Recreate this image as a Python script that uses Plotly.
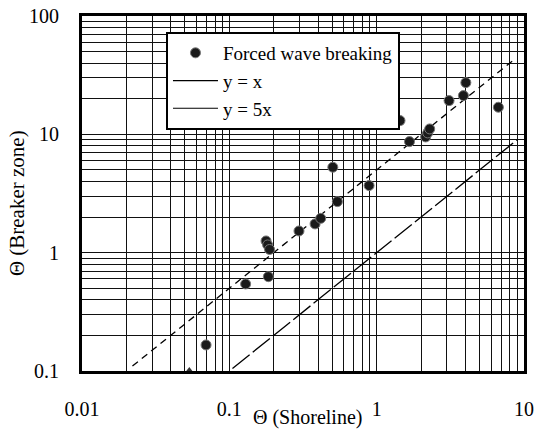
import plotly.graph_objects as go

# Data
shore = [0.0695, 0.129, 0.184, 0.1775, 0.182, 0.1875, 0.297, 0.382, 0.417, 0.541,
         0.504, 0.888, 1.44, 1.67, 2.15, 2.22, 2.29, 3.10, 3.88, 4.03, 6.70]
breaker = [0.166, 0.544, 0.627, 1.256, 1.162, 1.064, 1.525, 1.75, 1.95, 2.70,
           5.27, 3.69, 13.06, 8.68, 9.51, 10.28, 11.11, 19.27, 21.24, 27.35, 16.94]

clipped_x = [0.0535]
clipped_y = [0.1]

line_x_x = [0.105, 9.0]
line_x_y = [0.105, 9.0]
line_5x_x = [0.022, 8.6]
line_5x_y = [0.11, 43.0]

x_tick_labels = {0.01: "0.01", 0.1: "0.1", 1: "1", 10: "10"}
y_tick_labels = {0.1: "0.1", 1: "1", 10: "10", 100: "100"}

def grid_vals(lo_exp, hi_exp):
    vals = []
    for e in range(lo_exp, hi_exp):
        for m in range(1, 10):
            vals.append(m * 10 ** e)
    vals.append(10 ** hi_exp)
    return vals

xgrid = grid_vals(-2, 1)
ygrid = grid_vals(-1, 2)

def lbl(v, d):
    for k, t in d.items():
        if abs(v - k) / k < 1e-6:
            return t
    return ""

FONT = "Liberation Serif"

fig = go.Figure()

fig.add_trace(go.Scatter(x=line_5x_x, y=line_5x_y, mode="lines", showlegend=False,
                         hoverinfo="skip",
                         line=dict(color="black", width=1.3, dash="7px,5px")))
fig.add_trace(go.Scatter(x=line_x_x, y=line_x_y, mode="lines", showlegend=False,
                         hoverinfo="skip",
                         line=dict(color="black", width=1.3, dash="22px,4px")))

fig.add_trace(go.Scatter(x=shore, y=breaker, mode="markers", name="Forced wave breaking",
                         marker=dict(symbol="circle", size=10, color="#1a1a1a",
                                     line=dict(color="#777", width=1))))
fig.add_trace(go.Scatter(x=clipped_x, y=clipped_y, mode="markers", showlegend=False,
                         cliponaxis=False,
                         marker=dict(symbol="triangle-up", size=8, color="#333")))

fig.add_trace(go.Scatter(x=[None], y=[None], mode="lines", name="y = x",
                         line=dict(color="black", width=1.2)))
fig.add_trace(go.Scatter(x=[None], y=[None], mode="lines", name="y = 5x",
                         line=dict(color="black", width=1.2)))

fig.update_layout(
    width=542, height=433,
    margin=dict(l=82, r=18, t=16, b=62, autoexpand=False),
    paper_bgcolor="white", plot_bgcolor="white",
    font=dict(family=FONT, size=20, color="black"),
    legend=dict(x=0.19, y=0.955, xanchor="left", yanchor="top",
                bgcolor="white", bordercolor="black", borderwidth=2,
                font=dict(family=FONT, size=19, color="black"),
                itemwidth=45, tracegroupgap=0),
    annotations=[
        dict(text="Θ (Shoreline)", xref="paper", yref="paper", x=0.511, y=-0.132,
             showarrow=False, font=dict(family=FONT, size=20, color="black"),
             xanchor="center", yanchor="middle"),
        dict(text="Θ (Breaker zone)", xref="paper", yref="paper", x=-0.147, y=0.473,
             showarrow=False, textangle=-90,
             font=dict(family=FONT, size=21, color="black"),
             xanchor="center", yanchor="middle"),
    ],
)

fig.update_xaxes(type="log", range=[-2, 1], automargin=False,
                 tickvals=xgrid, ticktext=[lbl(v, x_tick_labels) for v in xgrid],
                 showgrid=True, gridcolor="#111", gridwidth=1.4,
                 showline=True, linecolor="black", linewidth=3, mirror=True,
                 ticks="", ticklabelstandoff=18, zeroline=False,
                 tickfont=dict(family=FONT, size=20, color="black"))
fig.update_yaxes(type="log", range=[-1, 2], automargin=False,
                 tickvals=ygrid, ticktext=[lbl(v, y_tick_labels) for v in ygrid],
                 showgrid=True, gridcolor="#111", gridwidth=1.4,
                 showline=True, linecolor="black", linewidth=3, mirror=True,
                 ticks="", ticklabelstandoff=16, zeroline=False,
                 tickfont=dict(family=FONT, size=20, color="black"))

fig.write_html("out.html", config={"displayModeBar": False},
               post_script="document.body.style.margin='0px';")
